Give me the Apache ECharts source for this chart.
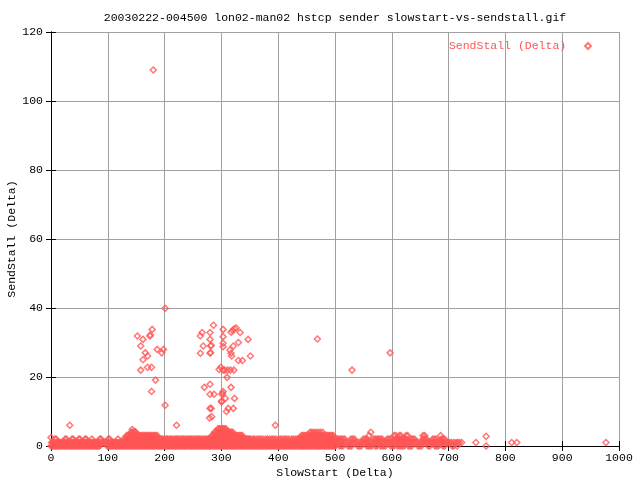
<!DOCTYPE html>
<html><head><meta charset="utf-8">
<script src="https://cdn.jsdelivr.net/npm/echarts@6/dist/echarts.min.js"></script>
<style>html,body{margin:0;padding:0;background:#fff}#c{width:640px;height:480px}</style>
</head><body><div id="c"></div>
<script>
const titleText = '20030222-004500 lon02-man02 hstcp sender slowstart-vs-sendstall.gif';
const seriesName = 'SendStall (Delta)';
const xName = 'SlowStart (Delta)';
const yName = 'SendStall (Delta)';
const xTicks = [0,100,200,300,400,500,600,700,800,900,1000];
const yTicks = [0,20,40,60,80,100,120];

// dense band: SlowStart values of the points lying at SendStall = 0,1,2,3,4,5
const stallAt0 = [0,2,4,6,8,10,12,14,16,18,20,22,24,26,28,30,32,34,36,38,40,42,44,46,48,50,52,54,56,58,60,62,64,66,68,70,72,74,76,78,80,82,84,86,
 99,101,103,105,107,109,111,113,115,117,119,121,123,125,127,129,131,133,135,137,139,141,143,145,147,149,151,153,155,157,159,161,163,165,167,169,171,173,175,177,179,181,183,185,187,189,191,193,195,197,199,
 201,203,205,207,209,211,213,215,217,219,221,223,225,227,229,231,233,235,237,239,241,243,245,247,249,251,253,255,257,259,261,263,265,267,269,271,273,275,277,279,281,283,285,287,289,291,293,295,297,299,
 301,303,305,307,309,311,313,315,317,319,321,323,325,327,329,331,333,335,337,339,341,343,345,347,349,351,353,355,357,359,361,363,365,367,369,371,373,375,377,379,381,383,385,387,389,391,393,395,397,399,
 401,403,405,407,409,411,413,415,417,419,421,423,425,427,429,431,433,435,437,439,441,443,445,447,449,451,453,455,457,459,461,463,465,467,469,471,473,475,477,479,481,483,485,487,489,491,493,495,497,499,501,
 508,511,514,523,526,529,540,543,546,556,559,562,565,571,574,580,583,586,589,598,601,604,610,613,616,619,622,629,632,635,646,649,652,664,667,676,679,682,690,693,706,709,715,766];
const stallAt1 = [1,3,5,7,9,11,13,15,17,19,21,23,25,27,29,31,33,35,37,39,41,43,45,47,49,51,53,55,57,59,61,63,65,67,69,71,73,75,77,79,81,83,85,87,89,91,93,95,97,99,
 102,104,106,108,110,112,114,116,118,120,122,124,126,128,130,132,134,136,138,140,142,144,146,148,150,152,154,156,158,160,162,164,166,168,170,172,174,176,178,180,182,184,186,188,190,192,194,196,198,200,
 202,204,206,208,210,212,214,216,218,220,222,224,226,228,230,232,234,236,238,240,242,244,246,248,250,252,254,256,258,260,262,264,266,268,270,272,274,276,278,280,282,284,286,288,290,292,294,296,298,300,
 302,304,306,308,310,312,314,316,318,320,322,324,326,328,330,332,334,336,338,340,342,344,346,348,350,352,354,356,358,360,362,364,366,368,370,372,374,376,378,380,382,384,386,388,390,392,394,396,398,400,
 402,404,406,408,410,412,414,416,418,420,422,424,426,428,430,432,434,436,438,440,442,444,446,448,450,452,454,456,458,460,462,464,466,468,470,472,474,476,478,480,482,484,486,488,490,492,494,496,498,500,
 504,507,510,513,516,519,524,527,530,533,537,540,543,547,550,553,556,559,562,565,568,571,574,577,580,583,586,589,592,595,598,601,604,607,610,613,616,619,622,625,628,631,634,637,640,643,646,650,653,656,660,663,666,669,672,675,678,681,684,687,690,693,696,699,702,705,709,713,716,719,723,748,811,820,977];
const stallAt2 = [7,9,25,27,37,39,49,51,60,62,72,86,88,101,103,118,128,
 131,133,135,137,139,141,143,145,147,149,151,153,155,157,159,161,163,165,167,169,171,173,175,177,179,181,183,185,187,189,
 192,195,197,200,203,205,208,211,213,217,220,222,225,228,231,233,236,239,242,245,247,250,253,256,259,261,264,267,270,273,276,278,
 281,283,285,287,289,291,293,295,297,299,301,303,305,307,309,311,313,315,317,319,321,323,325,327,329,331,333,335,337,339,341,343,345,347,349,351,
 355,358,362,366,369,373,378,381,385,389,392,396,401,404,408,412,415,419,424,427,431,
 434,436,438,440,442,444,446,448,450,452,454,456,458,460,462,464,466,468,470,472,474,476,478,480,482,484,486,488,490,492,494,496,498,500,502,
 505,508,511,514,517,528,531,534,550,553,556,568,571,574,577,580,583,592,595,598,607,610,613,616,619,622,625,634,637,640,655,658,661,672,675,678,687,690,693];
const stallAt3 = [133,135,137,139,141,143,145,147,149,151,153,155,157,159,161,163,165,167,169,171,173,175,177,179,181,183,185,187,
 283,285,287,289,291,293,295,297,299,301,303,305,307,309,311,313,315,317,319,321,323,325,327,329,331,333,335,337,
 441,443,445,447,449,451,453,455,457,459,461,463,465,467,469,471,473,475,477,479,481,483,485,487,489,491,493,495,497,
 560,604,607,613,616,625,628,655,658,686];
const stallAt4 = [141,143,145,147,149,288,290,292,294,296,298,300,302,304,306,308,310,312,314,316,318,320,456,459,462,466,470,474,478,563];
const stallAt5 = [294,296,298,300,302,304,306,308];

// scattered points above the band: [SlowStart, SendStall]
const outliers = [[0,2.5],[33,6],[143,4.8],[148,4.1],[766,2.8],[180,109],[201,39.9],
 [152,31.9],[162,30.9],[178,33.8],[174,31.9],[175,32.2],[158,29],[166,27],[170,26.1],[187,28],[195,27],[198,28],
 [162,25],[170,22.8],[177,22.8],[158,22],[184,19.1],[177,15.8],[201,11.8],[221,6],
 [286,35],[266,32.9],[263,31.9],[280,32.9],[280,30.9],[303,33.8],[317,33],[320,33.5],[323,34],[326,34.2],[333,32.9],
 [303,31.7],[303,29.8],[330,30],[347,30.9],[268,29],[281,29],[282,29.2],[280,26.9],[281,27.1],[263,26.9],
 [303,28.8],[321,29],[315,27.8],[317,26.9],[318,26.1],[330,24.8],[337,24.8],[351,26.1],
 [296,22.2],[299,22.8],[303,22],[306,22],[311,22],[316,22],[322,22],[310,19.9],[270,17],[280,17.9],
 [280,15],[287,15],[301,15],[302,15.3],[303,15.8],[317,17],[307,13.8],[323,13.8],[300,13],[300.5,12.8],
 [282,10.9],[280,10.9],[283,8.5],[309,10],[312,10.9],[321,10.9],[279,8.1],[395,6],[469,31],[530,22],[597,27]];

const bandRows = [[0,stallAt0],[1,stallAt1],[2,stallAt2],[3,stallAt3],[4,stallAt4],[5,stallAt5]];
const points = [];
bandRows.forEach(([lvl, xs]) => xs.forEach(x => points.push([x, lvl])));
outliers.forEach(p => points.push(p));

const FONT = '"Liberation Mono","DejaVu Sans Mono",monospace';
const FS = 11.5;
const RED = '#ff5555';
const GRIDC = '#a0a0a0';

const chart = echarts.init(document.getElementById('c'), null, {renderer:'canvas'});
const baseX = {type:'value', min:xTicks[0], max:xTicks[xTicks.length-1], interval:xTicks[1]-xTicks[0]};
const baseY = {type:'value', min:yTicks[0], max:yTicks[yTicks.length-1], interval:yTicks[1]-yTicks[0]};
chart.setOption({
  animation:false,
  backgroundColor:'#fff',
  graphic:[{type:'text', x:335, y:18, style:{text:titleText, align:'center', verticalAlign:'middle', textAlign:'center', textVerticalAlign:'middle', font:FS+'px '+FONT, fill:'#000'}}],
  legend:{data:[seriesName], right:43, top:35, align:'right', itemWidth:6, itemHeight:6, icon:'diamond',
    formatter: n => n + '  ',
    textStyle:{color:RED, fontFamily:FONT, fontSize:FS}},
  grid:{left:51, right:21, top:32, bottom:34, containLabel:false, outerBoundsMode:'none'},
  xAxis:[Object.assign({}, baseX, {position:'bottom',
      axisLine:{show:true, lineStyle:{color:'#000', width:1}},
      axisTick:{show:true, inside:true, length:5, lineStyle:{color:'#000'}},
      axisLabel:{color:'#000', fontFamily:FONT, fontSize:FS, margin:6, formatter: v => String(v)},
      splitLine:{show:true, lineStyle:{color:GRIDC, width:1}},
      name:xName, nameLocation:'middle', nameGap:21, nameMoveOverlap:false,
      nameTextStyle:{color:'#000', fontFamily:FONT, fontSize:FS}}),
    Object.assign({}, baseX, {position:'top',
      axisLine:{show:true, lineStyle:{color:'#000', width:1}},
      axisTick:{show:true, inside:true, length:5, lineStyle:{color:'#000'}},
      axisLabel:{show:false}, splitLine:{show:false}})],
  yAxis:[Object.assign({}, baseY, {position:'left',
      axisLine:{show:true, lineStyle:{color:'#000', width:1}},
      axisTick:{show:true, inside:true, length:5, lineStyle:{color:'#000'}},
      axisLabel:{color:'#000', fontFamily:FONT, fontSize:FS, margin:8, formatter: v => String(v)},
      splitLine:{show:true, lineStyle:{color:GRIDC, width:1}},
      name:yName, nameLocation:'middle', nameGap:33, nameMoveOverlap:false,
      nameTextStyle:{color:'#000', fontFamily:FONT, fontSize:FS}}),
    Object.assign({}, baseY, {position:'right',
      axisLine:{show:true, lineStyle:{color:'#000', width:1}},
      axisTick:{show:true, inside:true, length:5, lineStyle:{color:'#000'}},
      axisLabel:{show:false}, splitLine:{show:false}})],
  series:[{type:'scatter', name:seriesName, xAxisIndex:0, yAxisIndex:0, data:points,
    symbol:'diamond', symbolSize:6, clip:false, large:false,
    itemStyle:{color:'rgba(255,85,85,0)', borderColor:RED, borderWidth:1.5},
    emphasis:{disabled:true}}]
});
</script></body></html>
